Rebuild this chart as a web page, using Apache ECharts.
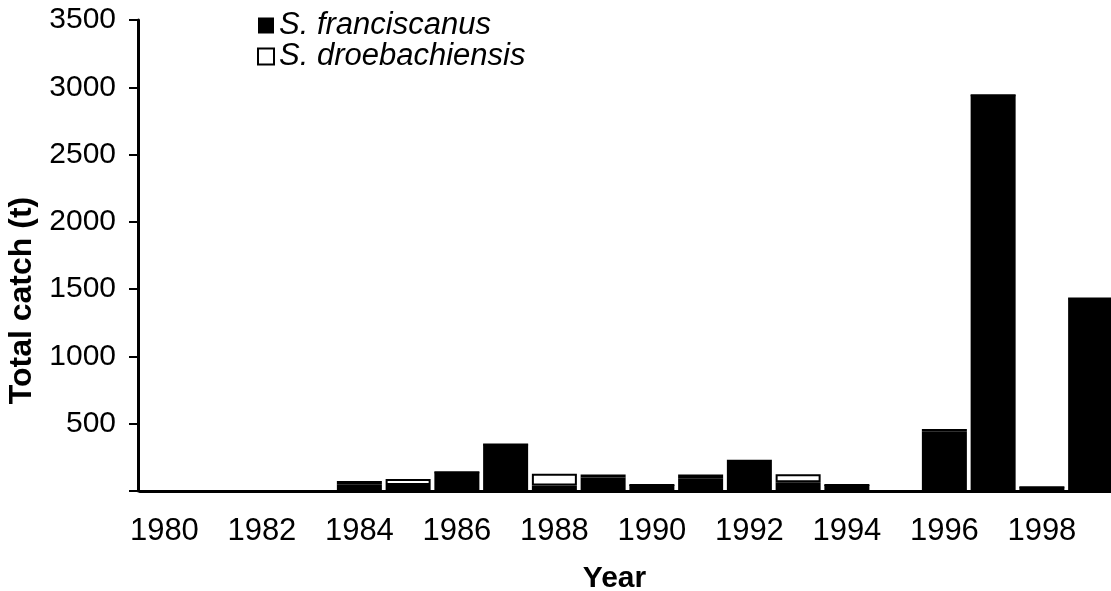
<!DOCTYPE html>
<html>
<head>
<meta charset="utf-8">
<script src="https://cdn.jsdelivr.net/npm/echarts@6/dist/echarts.min.js"></script>
<style>
  html, body { margin: 0; padding: 0; background: #fff; }
  #main { width: 1111px; height: 591px; }
</style>
</head>
<body>
<div id="main"></div>
<script>
// catch per year (t)
var years = ['1980', '1981', '1982', '1983', '1984', '1985', '1986', '1987', '1988', '1989',
  '1990', '1991', '1992', '1993', '1994', '1995', '1996', '1997', '1998', '1999']
var franciscanus = [0, 0, 0, 0, 50, 45, 140, 345, 40, 100, 45, 95, 215, 65, 45, 0, 440, 2940, 28, 1430]
var droebachiensis = [0, 0, 0, 0, 25, 44, 0, 0, 88, 22, 0, 28, 18, 60, 0, 0, 20, 0, 0, 0]

var font = "'Liberation Sans', Arial, sans-serif"
var myChart = echarts.init(document.getElementById('main'))

var option = {
  backgroundColor: '#fff',
  animation: false,
  textStyle: { fontFamily: font, color: '#000' },
  legend: {
    orient: 'vertical',
    left: 252,
    top: 5,
    itemWidth: 16,
    itemHeight: 16,
    itemGap: 0,
    icon: 'rect',
    textStyle: { fontSize: 31, fontStyle: 'italic', color: '#000', fontFamily: font, lineHeight: 30 },
    data: ['S. franciscanus', 'S. droebachiensis']
  },
  // the last year runs off the right edge, as in the source figure
  grid: { left: 140, top: 20, width: 975, height: 471, outerBoundsMode: 'none' },
  xAxis: {
    type: 'category',
    data: years,
    name: 'Year',
    nameLocation: 'middle',
    nameGap: 73,
    nameTextStyle: { fontSize: 30, fontWeight: 'bold', color: '#000', padding: [0, 26, 0, 0] },
    axisLine: { lineStyle: { color: '#000', width: 3 } },
    axisTick: { interval: 1, alignWithLabel: true, length: 10, lineStyle: { width: 3 } },
    axisLabel: { interval: 1, fontSize: 31, color: '#000', margin: 25 }
  },
  yAxis: {
    type: 'value',
    min: 0,
    max: 3500,
    interval: 500,
    offset: 2,
    name: 'Total catch (t)',
    nameLocation: 'middle',
    nameGap: 97,
    nameTextStyle: { fontSize: 32, fontWeight: 'bold', color: '#000', padding: [0, 90, 0, 0] },
    splitLine: { show: false },
    axisLine: { show: true, lineStyle: { color: '#000', width: 3 } },
    axisTick: { show: true, length: 9, lineStyle: { width: 2 } },
    axisLabel: {
      fontSize: 30,
      color: '#000',
      margin: 22,
      formatter: function (v) { return v === 0 ? '' : v }
    }
  },
  series: [
    {
      name: 'S. franciscanus',
      type: 'bar',
      stack: 'catch',
      barWidth: 45,
      itemStyle: { color: '#000' },
      data: franciscanus
    },
    {
      name: 'S. droebachiensis',
      type: 'bar',
      stack: 'catch',
      barWidth: 45,
      itemStyle: { color: '#fff', borderColor: '#000', borderWidth: 2 },
      data: droebachiensis
    }
  ]
}

myChart.setOption(option)
</script>
</body>
</html>
